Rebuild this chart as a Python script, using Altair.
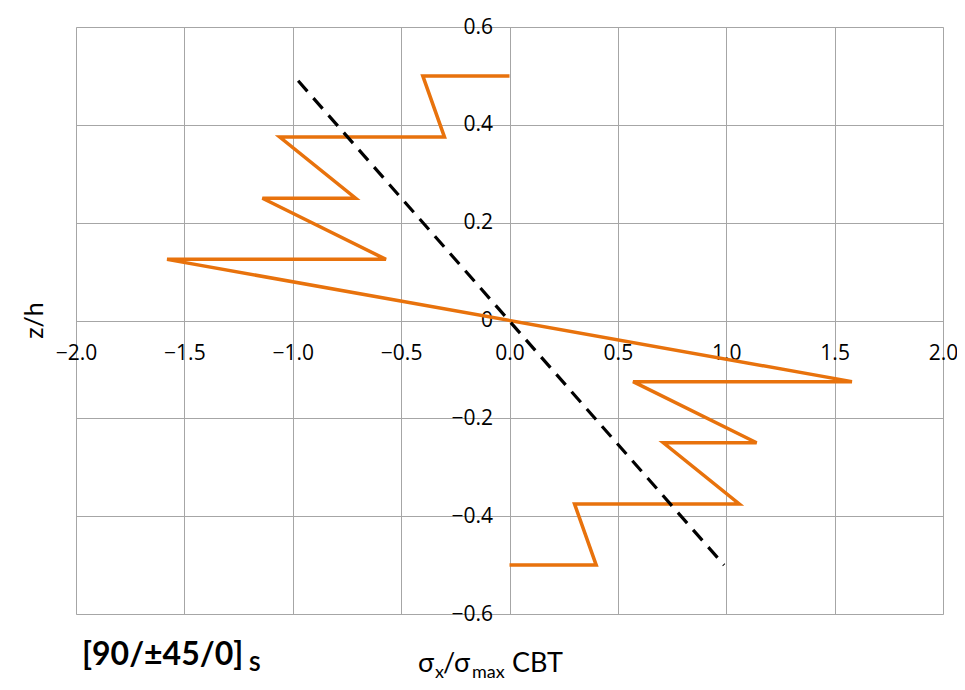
import altair as alt
import pandas as pd

# Orange stress profile (sigma_x / sigma_max) through the thickness z/h
stress_x = [0.0, -0.40, -0.30, -1.06, -0.71, -1.14, -0.57, -1.58,
            1.58, 0.57, 1.14, 0.71, 1.06, 0.30, 0.40, 0.0]
stress_z = [0.5, 0.5, 0.375, 0.375, 0.25, 0.25, 0.125, 0.125,
            -0.125, -0.125, -0.25, -0.25, -0.375, -0.375, -0.5, -0.5]

# Dashed reference line
dash_x = [-0.975, 0.99]
dash_z = [0.49, -0.5]

x_ticks = [-2.0, -1.5, -1.0, -0.5, 0.0, 0.5, 1.0, 1.5, 2.0]
y_ticks = [-0.6, -0.4, -0.2, 0.0, 0.2, 0.4, 0.6]

W, H = 867, 587
FONT = "Open Sans"
TFONT = "Lato"

df_s = pd.DataFrame({"x": stress_x, "z": stress_z, "i": list(range(len(stress_x)))})
df_d = pd.DataFrame({"x": dash_x, "z": dash_z, "i": [0, 1]})

xs = alt.Scale(domain=[-2, 2], nice=False, zero=False)
ys = alt.Scale(domain=[-0.6, 0.6], nice=False, zero=False)

x_axis = alt.Axis(values=x_ticks, format=".1f", offset=-H / 2, domain=False, ticks=False,
                  grid=True, gridColor="#a6a6a6", gridWidth=1, labelFont=FONT, labelFontSize=21,
                  labelColor="#000000", labelPadding=22, title=None, labelFlush=False,
                  labelOverlap=False)
y_axis = alt.Axis(values=y_ticks, offset=-W / 2, domain=False, ticks=False,
                  labelExpr="datum.value == 0 ? '0' : format(datum.value, '.1f')",
                  grid=True, gridColor="#a6a6a6", gridWidth=1, labelFont=FONT, labelFontSize=21,
                  labelColor="#000000", labelPadding=17, title=None, labelFlush=False,
                  labelOverlap=False)

stress = alt.Chart(df_s).mark_line(color="#E8720C", strokeWidth=3.5).encode(
    x=alt.X("x:Q", scale=xs, axis=x_axis),
    y=alt.Y("z:Q", scale=ys, axis=y_axis),
    order="i:Q",
)

dash = alt.Chart(df_d).mark_line(color="#000000", strokeWidth=3.2, strokeDash=[14, 9]).encode(
    x=alt.X("x:Q", scale=xs),
    y=alt.Y("z:Q", scale=ys),
    order="i:Q",
)

def label(text, x, y, size, weight="normal", angle=0, align="left", baseline="alphabetic", font=TFONT):
    return alt.Chart(pd.DataFrame({"t": [text]})).mark_text(
        font=font, fontSize=size, fontWeight=weight, angle=angle, align=align,
        baseline=baseline, color="#000000"
    ).encode(text="t:N", x=alt.value(x), y=alt.value(y))

titles = [
    label("z/h", -41, H / 2, 25, angle=270, align="center", baseline="middle"),
    label("σ", 342, 645, 27),
    label("x", 359, 651, 18),
    label("/σ", 367, 645, 27),
    label("max", 396, 651, 18),
    label("CBT", 436, 645, 27),
    label("[90/±45/0]", 6, 638, 32, weight="bold"),
    label("S", 173, 644, 21, weight="bold"),
]

chart = alt.layer(stress, dash, *titles).properties(
    width=W, height=H,
    padding={"left": 68, "top": 19, "right": 14, "bottom": 68},
    autosize=alt.AutoSizeParams(type="none"),
).configure_view(stroke="#999999", strokeWidth=1.5).configure(background="#ffffff")

chart.save("out.html", embed_options={"renderer": "svg", "actions": False})
